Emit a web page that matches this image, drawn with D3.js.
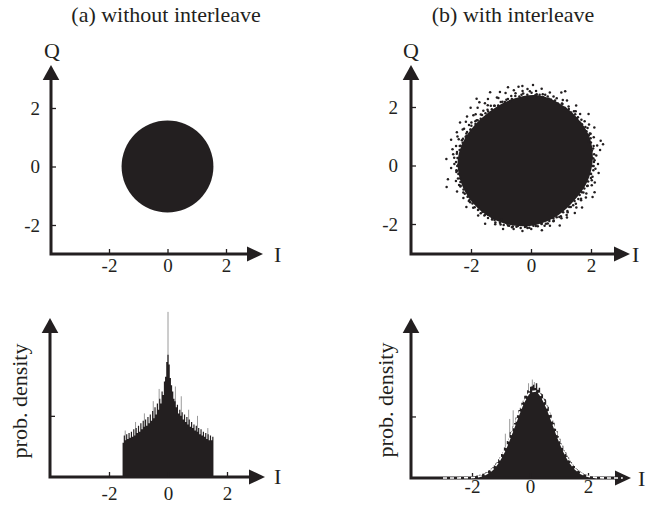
<!DOCTYPE html>
<html><head><meta charset="utf-8">
<script src="https://cdn.jsdelivr.net/npm/d3@7/dist/d3.min.js"></script>
<style>html,body{margin:0;padding:0;background:#fff;}svg{display:block;}</style>
</head><body><svg id="c" width="646" height="505"></svg>
<script>
// ---------------- data ----------------
const titles = ["(a) without interleave", "(b) with interleave"];
const iqTicks = [-2, 0, 2];
const densityTicks = [0.5];

// (a) constellation: filled disc
const discCenterA = [0, 0];
const discRadiusA = 1.57;

// (b) constellation: dense core outline (polar around cloud centre) + fringe dots [angle deg, radius]
const cloudCenterB = [-0.2, 0.22];
const coreAngle  = [0, 20, 40, 60, 80, 100, 120, 140, 160, 180, 200, 220, 240, 260, 280, 300, 320, 340];
const coreRadius = [2.26, 2.28, 2.24, 2.22, 2.22, 2.10, 2.02, 2.02, 2.12, 2.24, 2.28, 2.30, 2.31, 2.31, 2.28, 2.22, 2.17, 2.22];
const fringeDots = [
 [3,2.38],[7,2.52],[11,2.45],[14,2.60],[18,2.41],[22,2.33],[25,2.55],[29,2.44],[33,2.37],[36,2.62],[40,2.40],[44,2.35],[47,2.50],[51,2.31],[55,2.44],[58,2.38],[62,2.58],[66,2.34],[70,2.42],[73,2.30],[77,2.47],[81,2.36],[84,2.55],[88,2.40],[92,2.33],[95,2.48],[99,2.38],[103,2.52],[106,2.35],[110,2.44],[114,2.30],[117,2.56],[121,2.40],[125,2.33],[128,2.47],[132,2.36],[136,2.52],[139,2.28],[143,2.42],[147,2.35],[150,2.50],[154,2.31],[158,2.45],[161,2.38],[165,2.55],[169,2.34],[172,2.44],[176,2.40],[180,2.62],[184,2.36],[187,2.48],[191,2.33],[195,2.66],[198,2.42],[202,2.37],[206,2.52],[209,2.35],[213,2.45],[217,2.31],[220,2.55],[224,2.40],[228,2.34],[231,2.48],[235,2.36],[239,2.58],[242,2.32],[246,2.44],[250,2.38],[253,2.50],[257,2.34],[261,2.42],[264,2.30],[268,2.46],[272,2.36],[275,2.40],[279,2.32],[283,2.50],[286,2.37],[290,2.43],[294,2.33],[297,2.55],[301,2.36],[305,2.44],[308,2.31],[312,2.48],[316,2.38],[319,2.52],[323,2.34],[327,2.42],[330,2.36],[334,2.58],[338,2.40],[341,2.46],[345,2.33],[349,2.50],[352,2.37],[356,2.44],[359,2.32],
 [200,2.78],[11,2.65],[92,2.50],[60,2.68],[128,2.62],[330,2.60],
 [1,2.24],[9,2.30],[16,2.20],[21,2.28],[27,2.34],[34,2.22],[39,2.27],[45,2.31],[52,2.19],[57,2.26],[63,2.33],[69,2.21],[75,2.29],[80,2.25],[86,2.32],[93,2.20],[98,2.27],[104,2.05],[111,2.10],[116,2.02],[122,2.15],[127,2.04],[134,2.12],[140,2.06],[145,2.18],[151,2.08],[156,2.14],[163,2.31],[168,2.19],[174,2.28],[179,2.36],[185,2.23],[190,2.30],[197,2.26],[203,2.33],[208,2.21],[214,2.28],[219,2.35],[226,2.24],[232,2.30],[237,2.27],[244,2.32],[249,2.22],[255,2.29],[260,2.34],[266,2.25],[271,2.31],[277,2.20],[284,2.27],[289,2.33],[295,2.23],[300,2.29],[306,2.36],[313,2.24],[318,2.28],[324,2.31],[329,2.21],[336,2.27],[342,2.34],[347,2.25],[354,2.30],
 [102,2.20],[107,2.12],[113,2.27],[119,2.08],[124,2.22],[130,2.16],[137,2.25],[142,2.10],[148,2.20],[153,2.28],[159,2.12],[163,2.20],
 [0.5,2.28],[4,2.31],[7.5,2.25],[11,2.33],[14.5,2.27],[18,2.30],[21.5,2.35],[25,2.26],[28.5,2.29],[32,2.24],[35.5,2.31],[39,2.22],[42.5,2.27],[46,2.21],[49.5,2.25],[53,2.20],[56.5,2.26],[60,2.19],[63.5,2.24],[67,2.21],[70.5,2.27],[74,2.20],[77.5,2.25],[81,2.22],[84.5,2.28],[88,2.20],[91.5,2.24],[95,2.15],[98.5,2.18],[102,2.10],[105.5,2.13],[109,2.06],[112.5,2.11],[116,2.04],[119.5,2.09],[123,2.03],[126.5,2.10],[130,2.05],[133.5,2.08],[137,2.02],[140.5,2.09],[144,2.04],[147.5,2.12],[151,2.07],[154.5,2.14],[158,2.10],[161.5,2.18],[165,2.15],[168.5,2.22],[172,2.20],[175.5,2.28],[179,2.25],[182.5,2.30],[186,2.27],[189.5,2.32],[193,2.28],[196.5,2.33],[200,2.29],[203.5,2.35],[207,2.30],[210.5,2.33],[214,2.31],[217.5,2.36],[221,2.32],[224.5,2.35],[228,2.33],[231.5,2.37],[235,2.32],[238.5,2.36],[242,2.34],[245.5,2.38],[249,2.33],[252.5,2.36],[256,2.34],[259.5,2.37],[263,2.33],[266.5,2.36],[270,2.32],[273.5,2.35],[277,2.30],[280.5,2.34],[284,2.29],[287.5,2.32],[291,2.27],[294.5,2.31],[298,2.25],[301.5,2.29],[305,2.22],[308.5,2.27],[312,2.20],[315.5,2.25],[319,2.19],[322.5,2.24],[326,2.20],[329.5,2.26],[333,2.22],[336.5,2.28],[340,2.24],[343.5,2.29],[347,2.26],[350.5,2.31],[354,2.27],[357.5,2.30]
];

// (a) histogram of I: bins from -1.54, width 0.04
const histAStart = -1.54, histAStep = 0.04;
const histA = [0.28,0.34,0.30,0.35,0.31,0.36,0.32,0.37,0.33,0.39,0.34,0.40,0.36,0.42,0.37,0.44,0.39,0.46,0.41,0.47,0.42,0.49,0.44,0.51,0.46,0.54,0.48,0.57,0.51,0.60,0.55,0.64,0.60,0.70,0.67,0.78,0.82,0.94,1.00,0.92,0.81,0.75,0.70,0.64,0.62,0.57,0.59,0.52,0.55,0.50,0.53,0.47,0.51,0.45,0.49,0.43,0.47,0.41,0.45,0.40,0.43,0.38,0.42,0.37,0.40,0.35,0.39,0.34,0.37,0.33,0.36,0.31,0.35,0.30,0.34,0.30,0.33];
const spikesAI = [-1.45,-1.10,-0.80,-0.50,-0.30,0.00,0.25,0.45,0.70,1.00,1.35];
const spikesAP = [0.38,0.45,0.52,0.62,0.72,1.35,0.74,0.66,0.55,0.50,0.40];

// (b) histogram of I: bins from -2.8, width 0.05
const histBStart = -2.8, histBStep = 0.05;
const histB = [0.000,0.000,0.000,0.001,0.000,0.002,0.001,0.003,0.002,0.004,0.003,0.006,0.005,0.008,0.007,0.011,0.010,0.015,0.014,0.020,0.019,0.026,0.025,0.034,0.036,0.045,0.049,0.060,0.066,0.078,0.088,0.101,0.118,0.131,0.152,0.168,0.196,0.209,0.248,0.262,0.300,0.318,0.372,0.381,0.420,0.446,0.492,0.509,0.553,0.571,0.612,0.628,0.668,0.671,0.712,0.705,0.741,0.745,0.758,0.731,0.770,0.718,0.734,0.688,0.680,0.645,0.640,0.594,0.579,0.533,0.512,0.468,0.448,0.401,0.382,0.339,0.318,0.280,0.262,0.226,0.210,0.180,0.166,0.141,0.128,0.108,0.097,0.082,0.072,0.061,0.053,0.044,0.039,0.031,0.028,0.022,0.019,0.015,0.013,0.010,0.008,0.006,0.005,0.004,0.003,0.002,0.002,0.001,0.001,0.000,0.000,0.000,0.000,0.000,0.000,0.000];
const spikesBI = [-0.85,-0.70,-0.58,-0.05,0.08,0.15,0.55,0.72,0.95,1.25];
const spikesBP = [0.36,0.48,0.55,0.77,0.80,0.78,0.63,0.52,0.36,0.20];

// (b) theoretical Gaussian (dashed white)
const gaussI = [-3.0,-2.8,-2.6,-2.4,-2.2,-2.0,-1.8,-1.6,-1.4,-1.2,-1.0,-0.8,-0.6,-0.4,-0.2,0.0,0.2,0.4,0.6,0.8,1.0,1.2,1.4,1.6,1.8,2.0,2.2,2.4,2.6,2.8,3.0,3.2];
const gaussP = [0.000,0.000,0.000,0.001,0.002,0.004,0.010,0.024,0.049,0.094,0.165,0.263,0.384,0.511,0.623,0.694,0.707,0.658,0.560,0.435,0.309,0.201,0.119,0.065,0.032,0.015,0.006,0.002,0.001,0.000,0.000,0.000];

// ---------------- drawing ----------------
const ink = "#231f20";
const serif = '"Liberation Serif","Times New Roman",Times,serif';
const svg = d3.select("#c");

const panels = {
  tl: {ox:51,  oy:254, tipX:263, tipY:65,  xr:[109,226], yd:[-2,2],  yr:[225,108], xpad:4.5, ypad:11},
  tr: {ox:411, oy:254, tipX:630, tipY:65,  xr:[471,591], yd:[-2,2],  yr:[224,107], xpad:4.5, ypad:13},
  bl: {ox:50,  oy:477, tipX:265, tipY:318, xr:[109,227], yd:[0,1.3], yr:[477,318], xpad:9.5, ypad:10},
  br: {ox:411, oy:478, tipX:631, tipY:318, xr:[472,588], yd:[0,1.3], yr:[478,318], xpad:1.5, ypad:10}
};
for (const k in panels) {
  const p = panels[k];
  p.x = d3.scaleLinear().domain([-2,2]).range(p.xr);
  p.y = d3.scaleLinear().domain(p.yd).range(p.yr);
}

function drawAxes(p, yTicks, showYLabels) {
  const g = svg.append("g");
  g.append("path").attr("d", `M${p.ox},${p.tipY+12}V${p.oy}H${p.tipX-12}`)
    .attr("fill","none").attr("stroke",ink).attr("stroke-width",3).attr("stroke-linejoin","miter");
  g.append("path").attr("d", `M${p.ox},${p.tipY}L${p.ox+8.3},${p.tipY+15}L${p.ox-8.3},${p.tipY+15}Z`).attr("fill",ink);
  g.append("path").attr("d", `M${p.tipX},${p.oy}L${p.tipX-16},${p.oy-7.5}L${p.tipX-16},${p.oy+7.5}Z`).attr("fill",ink);

  const xa = d3.axisBottom(p.x).tickValues(iqTicks).tickSize(-5).tickPadding(p.xpad).tickFormat(d => String(d));
  const gx = svg.append("g").attr("transform",`translate(0,${p.oy})`).call(xa);
  gx.select(".domain").remove();
  gx.selectAll("line").attr("stroke",ink).attr("stroke-width",1.3);
  gx.selectAll("text").attr("fill",ink).style("font-family",serif).style("font-size","19px");

  const ya = d3.axisLeft(p.y).tickValues(yTicks).tickSize(-5).tickPadding(p.ypad)
    .tickFormat(d => showYLabels ? String(d) : "");
  const gy = svg.append("g").attr("transform",`translate(${p.ox},0)`).call(ya);
  gy.select(".domain").remove();
  gy.selectAll("line").attr("stroke",ink).attr("stroke-width",1.3);
  gy.selectAll("text").attr("fill",ink).style("font-family",serif).style("font-size","19px");
}

function label(txt, x, y, size, anchor, rot) {
  const t = svg.append("text").text(txt).attr("fill",ink)
    .style("font-family",serif).style("font-size",size+"px").attr("text-anchor",anchor||"middle");
  if (rot) t.attr("transform",`translate(${x},${y}) rotate(${rot})`);
  else t.attr("x",x).attr("y",y);
  return t;
}

// titles
label(titles[0], 166, 22, 22, "middle");
label(titles[1], 513, 22, 22, "middle");

// ---- (a) top: disc ----
{
  const p = panels.tl;
  svg.append("ellipse")
    .attr("cx", p.x(discCenterA[0])).attr("cy", p.y(discCenterA[1]))
    .attr("rx", p.x(discRadiusA) - p.x(0)).attr("ry", p.y(0) - p.y(discRadiusA))
    .attr("fill", ink);
  drawAxes(p, iqTicks, true);
  label("Q", p.ox+1, 58, 22, "middle");
  label("I", 274, 262, 22, "start");
}

// ---- (b) top: cloud ----
{
  const p = panels.tr;
  const polar = (a, r) => [p.x(cloudCenterB[0] + r*Math.cos(a*Math.PI/180)), p.y(cloudCenterB[1] + r*Math.sin(a*Math.PI/180))];
  const pts = coreAngle.map((a,i) => polar(a, coreRadius[i]));
  svg.append("path").attr("d", d3.line().curve(d3.curveCardinalClosed.tension(0))(pts)).attr("fill", ink);
  svg.append("g").selectAll("circle").data(fringeDots).join("circle")
    .attr("cx", d => polar(d[0], d[1])[0])
    .attr("cy", d => polar(d[0], d[1])[1])
    .attr("r", 1.25).attr("fill", ink);
  drawAxes(p, iqTicks, true);
  label("Q", p.ox, 58, 22, "middle");
  label("I", 632, 262, 22, "start");
}

// histogram helper
function drawHist(p, start, step, vals, spI, spP) {
  svg.append("g").selectAll("line").data(spI).join("line")
    .attr("x1", d => p.x(d)).attr("x2", d => p.x(d))
    .attr("y1", p.y(0)).attr("y2", (d,i) => p.y(spP[i]))
    .attr("stroke", "#9a9a9a").attr("stroke-width", 1);
  const edges = vals.map((v,i) => [start + i*step, v]);
  edges.push([start + vals.length*step, vals[vals.length-1]]);
  const area = d3.area().curve(d3.curveStepAfter)
    .x(d => p.x(d[0])).y0(p.y(0)).y1(d => p.y(d[1]));
  svg.append("path").attr("d", area(edges)).attr("fill", ink);
}

// ---- (a) bottom ----
{
  const p = panels.bl;
  drawHist(p, histAStart, histAStep, histA, spikesAI, spikesAP);
  drawAxes(p, densityTicks, false);
  label("prob. density", 27, 401, 22, "middle", -90);
  label("I", 274, 484, 22, "start");
}

// ---- (b) bottom ----
{
  const p = panels.br;
  drawHist(p, histBStart, histBStep, histB, spikesBI, spikesBP);
  drawAxes(p, densityTicks, false);
  const line = d3.line().curve(d3.curveMonotoneX).x(d => p.x(d[0])).y(d => p.y(d[1]));
  svg.append("path").attr("d", line(gaussI.map((v,i) => [v, gaussP[i]])))
    .attr("fill","none").attr("stroke","#ffffff").attr("stroke-width",1.6).attr("stroke-dasharray","4,3");
  label("prob. density", 393, 400, 22, "middle", -90);
  label("I", 638, 486, 22, "start");
}
</script>
</body></html>
